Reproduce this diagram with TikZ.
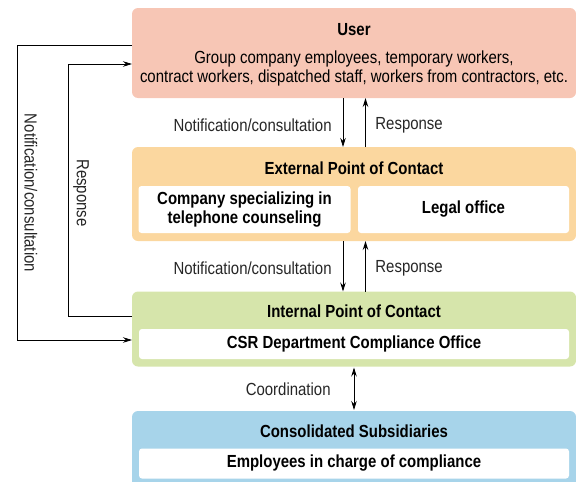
\documentclass[tikz,border=0pt]{standalone}
\usepackage{fontspec}
\setmainfont{Liberation Sans}[FakeStretch=0.855]
\usepackage{tikz}
\usetikzlibrary{arrows.meta}

\definecolor{userpink}{HTML}{F7C6B5}
\definecolor{extorange}{HTML}{FBD79F}
\definecolor{intgreen}{HTML}{D6E5AB}
\definecolor{subblue}{HTML}{A7D4EA}
\definecolor{txtgray}{HTML}{262626}

\tikzset{
  outerbox/.style={rectangle, rounded corners=6pt, inner sep=0pt, outer sep=0pt, minimum width=444pt},
  innerbox/.style={rectangle, rounded corners=3pt, fill=white, inner sep=0pt, outer sep=0pt, align=center, font=\bfseries\fontsize{17.5}{19}\selectfont},
  headtxt/.style={font=\bfseries\fontsize{17.5}{19}\selectfont, inner sep=0pt},
  lbl/.style={font=\fontsize{17.5}{18.5}\selectfont, text=txtgray, inner sep=0pt},
}

\begin{document}
\begin{tikzpicture}[x=1pt, y=-1pt, >={Stealth[length=9pt,width=5.5pt]}, line width=0.8pt]
\useasboundingbox (0,0) rectangle (576,482);
% boxes
\node (user) at (354,53) [outerbox, fill=userpink, minimum height=90pt] {};
\node (ext) at (354,194) [outerbox, fill=extorange, minimum height=94pt] {};
\node (int) at (354,329) [outerbox, fill=intgreen, minimum height=75pt] {};
\node (sub) at (354,450) [outerbox, fill=subblue, minimum height=78pt] {};
% headings
\node (usertitle) at (354,30) [headtxt] {User};
\node (usertxt) at (354,68.5) [lbl, align=center, text=black] {Group company employees, temporary workers,\\contract workers, dispatched staff, workers from contractors, etc.};
\node (exttitle) at (354,168) [headtxt] {External Point of Contact};
\node (phone) at (244.5,209.5) [innerbox, minimum width=212pt, minimum height=47pt] {Company specializing in\\telephone counseling};
\node (legal) at (463.5,209.5) [innerbox, minimum width=211pt, minimum height=47pt] {Legal office};
\node (inttitle) at (354,311) [headtxt] {Internal Point of Contact};
\node (csr) at (354,344) [innerbox, minimum width=430pt, minimum height=30pt] {CSR Department Compliance Office};
\node (subtitle) at (354,431) [headtxt] {Consolidated Subsidiaries};
\node (staff) at (354,463.5) [innerbox, minimum width=430pt, minimum height=30pt] {Employees in charge of compliance};
% arrows between boxes
\draw[->] ([xshift=-11pt]user.south) -- ([xshift=-11pt]ext.north);
\draw[->] ([xshift=11.5pt]ext.north) -- ([xshift=11.5pt]user.south);
\draw[->] ([xshift=-11pt]ext.south) -- ([xshift=-11pt]int.north);
\draw[->] ([xshift=11.5pt]int.north) -- ([xshift=11.5pt]ext.south);
\draw[<->] ([yshift=-1pt]int.south) -- ([yshift=1pt]sub.north);
\node (n1) at (332,125) [lbl, anchor=east] {Notification/consultation};
\node (r1) at (375,125) [lbl, anchor=west] {Response};
\node (n2) at (332,268) [lbl, anchor=east] {Notification/consultation};
\node (r2) at (375,268) [lbl, anchor=west] {Response};
\node (co) at (331,389) [lbl, anchor=east] {Coordination};
% side loops
\draw[->] ([yshift=8pt]user.west) -- ++(-115,0) |- ([yshift=-11pt]int.west);
\draw[->] ([yshift=13pt]int.west) -- ++(-64,0) |- ([yshift=-11pt]user.west);
\node (n3) at (31,193) [lbl, rotate=-90] {Notification/consultation};
\node (r3) at (81,193) [lbl, rotate=-90] {Response};
\end{tikzpicture}
\end{document}
